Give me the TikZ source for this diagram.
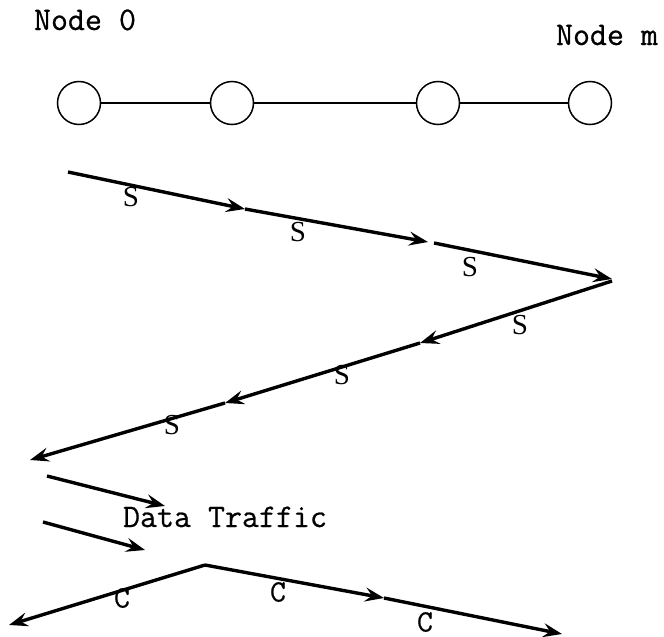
\documentclass[tikz,border=0pt]{standalone}
\usepackage{fontspec}
\setmainfont{Liberation Serif}
\newfontfamily\monofont{Latin Modern Mono}[FakeBold=0.6]
\usetikzlibrary{arrows.meta}
\begin{document}
\begin{tikzpicture}[x=1pt,y=-1pt,
  station/.style={draw,circle,line width=1.5pt,minimum size=43pt,inner sep=0pt},
  link/.style={line width=1.6pt},
  msg/.style={line width=3.4pt,-{Stealth[length=19pt,width=14pt,inset=7pt]}},
  mtext/.style={font=\monofont\fontsize{33}{36}\selectfont,inner sep=0pt,anchor=base},
  lbl/.style={font=\fontsize{29}{30}\selectfont,inner sep=0pt},
  clbl/.style={font=\monofont\fontsize{31}{32}\selectfont,inner sep=0pt}]
\useasboundingbox (0,0) rectangle (664,637);

% station labels
\node[mtext] (t0) at (85,30) {Node 0};
\node[mtext] (tm) at (607,45) {Node m};

% chain of stations
\node[station] (n0) at (79,103) {};
\node[station] (n1) at (232,103) {};
\node[station] (n2) at (438,103) {};
\node[station] (n3) at (590,103) {};
\draw[link,line width=1.4pt] (n0) -- (n1);
\draw[link,line width=2.2pt] (n1) -- (n2);
\draw[link,line width=2.8pt] (n2) -- (n3);

% forward S sweep
\coordinate (s0) at (68,172);
\coordinate (s1) at (245,209);
\coordinate (s2) at (428,242);
\coordinate (s2b) at (434,243);
\coordinate (s3) at (612,279);
\draw[msg] (s0) -- (s1);
\draw[msg] (s1) -- (s2);
\draw[msg] (s2b) -- (s3);
\node[lbl] (S1) at (131,197) {S};
\node[lbl] (S2) at (298,232) {S};
\node[lbl] (S3) at (470,267) {S};

% backward S sweep
\coordinate (r0) at (612,281);
\coordinate (r1) at (420,343);
\coordinate (r2) at (225,403);
\coordinate (r3) at (30,460);
\draw[msg] (r0) -- (r1);
\draw[msg] (r1) -- (r2);
\draw[msg] (r2) -- (r3);
\node[lbl] (S4) at (520,325) {S};
\node[lbl] (S5) at (342,375) {S};
\node[lbl] (S6) at (172,425) {S};

% data traffic
\coordinate (d0a) at (47,476);
\coordinate (d0b) at (165,506);
\coordinate (d1a) at (43,522);
\coordinate (d1b) at (145,550);
\draw[msg] (d0a) -- (d0b);
\draw[msg] (d1a) -- (d1b);
\node[mtext] (dt) at (225,527) {Data Traffic};

% C sweep
\coordinate (c0) at (205,565);
\coordinate (cl) at (9,625);
\coordinate (c1) at (384,598);
\coordinate (c2) at (562,634);
\draw[msg] (c0) -- (cl);
\draw[msg] (c0) -- (c1);
\draw[msg] (c1) -- (c2);
\node[clbl] (C1) at (122,598) {C};
\node[clbl] (C2) at (278,592) {C};
\node[clbl] (C3) at (425,622) {C};
\end{tikzpicture}
\end{document}
